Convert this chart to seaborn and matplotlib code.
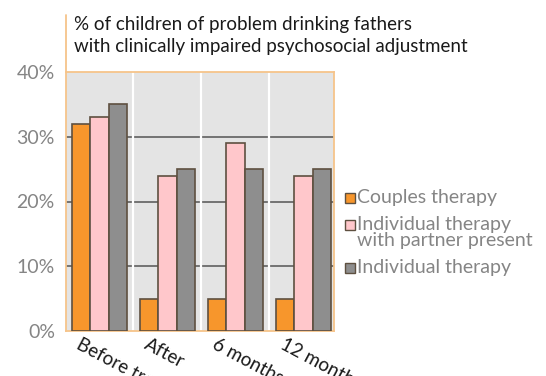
import numpy as np
import pandas as pd
import seaborn as sns
import matplotlib
matplotlib.use("Agg")
import matplotlib.pyplot as plt
import matplotlib.transforms as mtransforms
from matplotlib.lines import Line2D
from matplotlib.patches import Rectangle

# Data
timepoints = ["Before treatment", "After", "6 months", "12 months"]
groups = ["Couples therapy", "Individual therapy\nwith partner present", "Individual therapy"]
couples = [32, 5, 5, 5]
individual_partner = [33, 24, 29, 24]
individual = [35, 25, 25, 25]
y_ticks = [0, 10, 20, 30, 40]
title_text = "% of children of problem drinking fathers\nwith clinically impaired psychosocial adjustment"

colors = ["#F7962C", "#FFC7CB", "#8E8E8E"]
edge = "#5E5040"
orange_line = "#F6C48A"
label_gray = "#858585"

W, H = 546, 376


def fx(px):
    return px / W


def fy(py):
    return 1 - py / H


rows = []
for g, vals in zip(groups, [couples, individual_partner, individual]):
    for t, v in zip(timepoints, vals):
        rows.append({"time": t, "group": g, "pct": v})
df = pd.DataFrame(rows)

sns.set_theme(style="white")
plt.rcParams["font.family"] = ["Lato", "DejaVu Sans"]

fig = plt.figure(figsize=(W / 100, H / 100), dpi=100)
ax = fig.add_axes([fx(66), fy(331), (334 - 66) / W, (331 - 72) / H])
ax.set_facecolor("#E4E4E4")

sns.barplot(data=df, x="time", y="pct", hue="group", order=timepoints,
            hue_order=groups, palette=colors, saturation=1, width=0.81,
            edgecolor=edge, linewidth=1.2, ax=ax, legend=False, zorder=3)

ax.set_xlim(-0.49, 3.45)
ax.set_ylim(0, 40)

# horizontal reference lines behind the bars
for yv in y_ticks[1:-1]:
    ax.axhline(yv, color="#6A6A6A", lw=1.3, zorder=1)
# white separators between time points
for xv in [0.5, 1.5, 2.5]:
    ax.axvline(xv, color="white", lw=1.6, zorder=1)

for s in ax.spines.values():
    s.set_color(orange_line)
    s.set_linewidth(1.3)

ax.set_yticks(y_ticks)
ax.set_yticklabels([f"{v}%" for v in y_ticks], color=label_gray, fontsize=14)
ax.tick_params(axis="y", length=0, pad=8)
ax.set_xlabel("")
ax.set_ylabel("")

ax.set_xticks(range(len(timepoints)))
ax.set_xticklabels(timepoints, rotation=-28, ha="left", rotation_mode="anchor",
                   fontsize=13.5, color="#1a1a1a")
ax.tick_params(axis="x", length=0, pad=3)
offset = mtransforms.ScaledTranslation(-18 / 100, 0, fig.dpi_scale_trans)
for lbl in ax.get_xticklabels():
    lbl.set_transform(lbl.get_transform() + offset)

# left rule extending up beside the title
fig.add_artist(Line2D([fx(66), fx(66)], [fy(72), fy(15)],
                      color=orange_line, lw=1.3, transform=fig.transFigure))

fig.text(fx(74), fy(16), title_text, ha="left", va="top",
         fontsize=13.5, color="#1a1a1a", linespacing=1.38)

# legend: swatch beside the first line of each label
legend_rows = [198, 225, 268]
for c, g, yc in zip(colors, groups, legend_rows):
    fig.add_artist(Rectangle((fx(345), fy(yc + 5)), 10 / W, 10 / H,
                             facecolor=c, edgecolor=edge, linewidth=1.0,
                             transform=fig.transFigure))
    fig.text(fx(357), fy(yc - 9), g, ha="left", va="top", fontsize=14,
             color=label_gray, linespacing=0.95)

fig.savefig("out.png", dpi=100)
